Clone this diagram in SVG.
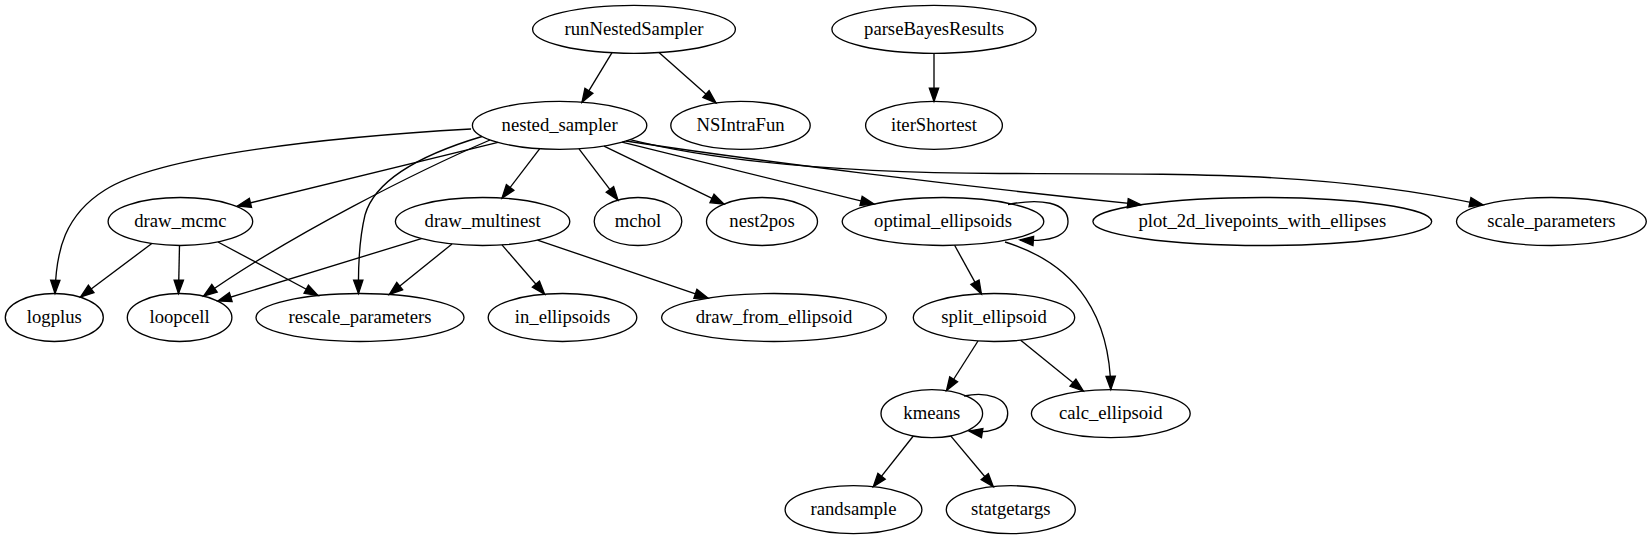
<svg xmlns="http://www.w3.org/2000/svg" width="1652" height="539" viewBox="0 0 1652 539">
<style>
.n ellipse{fill:none;stroke:#000;stroke-width:1.33}
.n text{font-family:"Liberation Serif","Times New Roman",serif;font-size:18.67px;text-anchor:middle;fill:#000}
#edges path{fill:none;stroke:#000;stroke-width:1.33;marker-end:url(#ah)}
</style>
<defs>
<marker id="ah" markerUnits="userSpaceOnUse" markerWidth="16" markerHeight="12" refX="13.33" refY="4.67" orient="auto" overflow="visible">
<path d="M0,0 L13.33,4.67 L0,9.33 Z" fill="#000" stroke="#000" stroke-width="1.33"/>
</marker>
</defs>
<rect x="0" y="0" width="1652" height="539" fill="#fff"/>
<g id="edges">
<path d="M612,52.7 L582,102.2"/>
<path d="M659,52.6 L716,102.9"/>
<path d="M934,53.3 L934,101.4"/>
<path d="M471,129 C330,137 160,155 105,190 C65,215 56,250 55,293.5"/>
<path d="M498,142.4 L237.5,206"/>
<path d="M490,140 C420,170 290,235 203.6,296"/>
<path d="M482,136.5 C420,155 375,180 365,215 C359,240 358,265 358.5,293.5"/>
<path d="M539.6,148.8 L502,198.1"/>
<path d="M579,148.8 L618,200.1"/>
<path d="M604,146.1 L724,204.2"/>
<path d="M622,142.2 L874,204.1"/>
<path d="M626,141 C750,160 950,185 1141,204.7"/>
<path d="M630,139.6 C720,162 850,173 1000,173.5 C1200,174 1330,172 1483,204.9"/>
<path d="M151.8,243.5 L80.5,297"/>
<path d="M179.5,245.5 L178.5,293.5"/>
<path d="M218,242 L318,295.5"/>
<path d="M421.4,238.6 L218,301"/>
<path d="M452,244 L389.3,294.5"/>
<path d="M502,244.9 L544.6,294.2"/>
<path d="M537.5,240.1 L708,298.1"/>
<path d="M1008,204.5 C1040,198 1068,202 1068,221.5 C1068,237 1048,242 1020,240"/>
<path d="M954.6,245.3 L981.4,293.9"/>
<path d="M1005,242 C1080,265 1110,320 1110.8,389.6"/>
<path d="M978,341 L946.5,390.5"/>
<path d="M1020.7,340.2 L1083.3,391.1"/>
<path d="M964,396 C987,391 1007.7,398 1007.7,413.6 C1007.7,429 988,434 969,431"/>
<path d="M913.3,436 L873.3,486.7"/>
<path d="M950.7,435.9 L993.3,486.8"/>
</g>
<g id="runNestedSampler" class="n"><ellipse cx="634" cy="29.3" rx="101.4" ry="24"/><text x="634" y="35">runNestedSampler</text></g>
<g id="parseBayesResults" class="n"><ellipse cx="934" cy="29.3" rx="102.1" ry="24"/><text x="934" y="35">parseBayesResults</text></g>
<g id="nested_sampler" class="n"><ellipse cx="559.6" cy="125.4" rx="87.2" ry="24"/><text x="559.6" y="131">nested_sampler</text></g>
<g id="NSIntraFun" class="n"><ellipse cx="740.5" cy="125.4" rx="69.7" ry="24"/><text x="740.5" y="131">NSIntraFun</text></g>
<g id="iterShortest" class="n"><ellipse cx="934" cy="125.4" rx="68.4" ry="24"/><text x="934" y="131">iterShortest</text></g>
<g id="draw_mcmc" class="n"><ellipse cx="180.4" cy="221.5" rx="72.3" ry="24"/><text x="180.4" y="227.1">draw_mcmc</text></g>
<g id="draw_multinest" class="n"><ellipse cx="482.6" cy="221.5" rx="87.2" ry="24"/><text x="482.6" y="227.1">draw_multinest</text></g>
<g id="mchol" class="n"><ellipse cx="638" cy="221.5" rx="43.8" ry="24"/><text x="638" y="227.1">mchol</text></g>
<g id="nest2pos" class="n"><ellipse cx="762" cy="221.5" rx="55.5" ry="24"/><text x="762" y="227.1">nest2pos</text></g>
<g id="optimal_ellipsoids" class="n"><ellipse cx="943" cy="221.5" rx="100.8" ry="24"/><text x="943" y="227.1">optimal_ellipsoids</text></g>
<g id="plot_2d_livepoints_with_ellipses" class="n"><ellipse cx="1262.3" cy="221.5" rx="169.4" ry="24"/><text x="1262.3" y="227.1">plot_2d_livepoints_with_ellipses</text></g>
<g id="scale_parameters" class="n"><ellipse cx="1551.4" cy="221.5" rx="94.9" ry="24"/><text x="1551.4" y="227.1">scale_parameters</text></g>
<g id="logplus" class="n"><ellipse cx="54.3" cy="317.5" rx="49" ry="24"/><text x="54.3" y="323.1">logplus</text></g>
<g id="loopcell" class="n"><ellipse cx="179.6" cy="317.5" rx="52.3" ry="24"/><text x="179.6" y="323.1">loopcell</text></g>
<g id="rescale_parameters" class="n"><ellipse cx="360" cy="317.5" rx="104" ry="24"/><text x="360" y="323.1">rescale_parameters</text></g>
<g id="in_ellipsoids" class="n"><ellipse cx="562.5" cy="317.5" rx="74.3" ry="24"/><text x="562.5" y="323.1">in_ellipsoids</text></g>
<g id="draw_from_ellipsoid" class="n"><ellipse cx="774" cy="317.5" rx="112.4" ry="24"/><text x="774" y="323.1">draw_from_ellipsoid</text></g>
<g id="split_ellipsoid" class="n"><ellipse cx="994" cy="317.5" rx="80.7" ry="24"/><text x="994" y="323.1">split_ellipsoid</text></g>
<g id="kmeans" class="n"><ellipse cx="931.8" cy="413.6" rx="50.8" ry="24"/><text x="931.8" y="419.2">kmeans</text></g>
<g id="calc_ellipsoid" class="n"><ellipse cx="1110.8" cy="413.6" rx="79.4" ry="24"/><text x="1110.8" y="419.2">calc_ellipsoid</text></g>
<g id="randsample" class="n"><ellipse cx="853.5" cy="509.7" rx="68.4" ry="24"/><text x="853.5" y="515.3">randsample</text></g>
<g id="statgetargs" class="n"><ellipse cx="1010.8" cy="509.7" rx="64.5" ry="24"/><text x="1010.8" y="515.3">statgetargs</text></g>
</svg>
